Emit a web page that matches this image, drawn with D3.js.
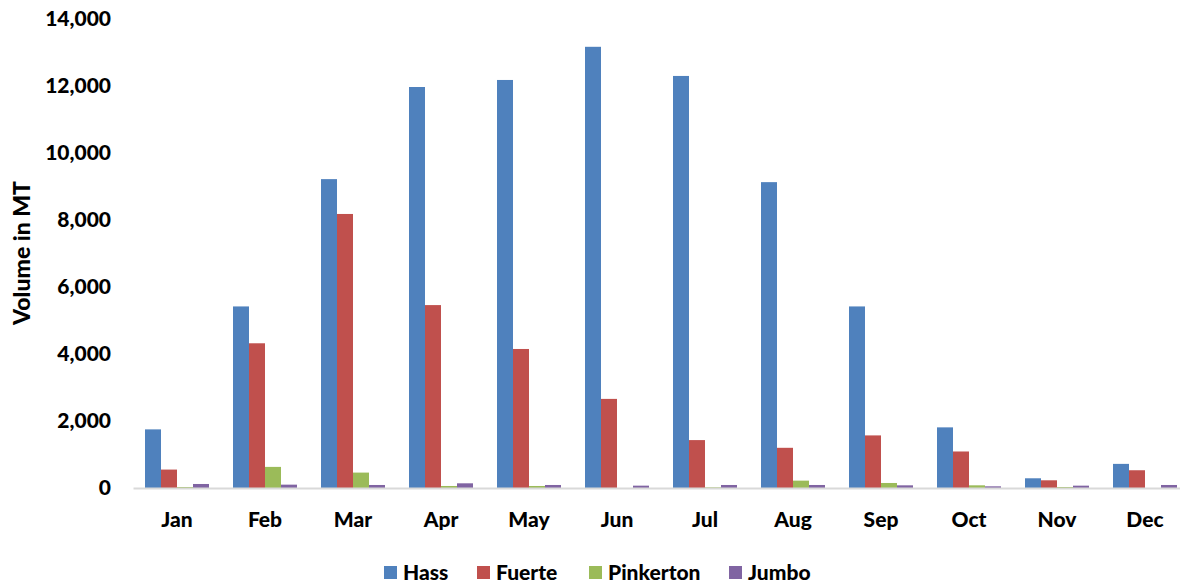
<!DOCTYPE html>
<html>
<head>
<meta charset="utf-8">
<script src="https://cdn.jsdelivr.net/npm/d3@7"></script>
<style>
  html, body { margin: 0; padding: 0; background: #ffffff; }
  svg { display: block; }
  text { font-family: Lato, "Open Sans", "Liberation Sans", sans-serif; font-weight: 900; fill: #000; }
</style>
</head>
<body>
<svg id="chart" width="1180" height="586"></svg>
<script>
// Monthly avocado volumes (metric tonnes) by variety
const months = ["Jan","Feb","Mar","Apr","May","Jun","Jul","Aug","Sep","Oct","Nov","Dec"];
const seriesNames = ["Hass","Fuerte","Pinkerton","Jumbo"];
const hass      = [1750, 5420, 9220, 11970, 12180, 13170, 12300, 9130, 5420, 1810, 290, 720];
const fuerte    = [550, 4320, 8180, 5460, 4150, 2660, 1430, 1200, 1570, 1090, 230, 530];
const pinkerton = [30, 630, 460, 60, 60, 0, 20, 220, 150, 80, 30, 0];
const jumbo     = [120, 100, 90, 140, 90, 70, 90, 90, 80, 50, 70, 90];
const yTicks    = [0, 2000, 4000, 6000, 8000, 10000, 12000, 14000];
const colors    = ["#4F81BD", "#C0504D", "#9BBB59", "#8064A2"];

const seriesValues = [hass, fuerte, pinkerton, jumbo];

const FONT = "Lato, 'Open Sans', sans-serif";
const FONT_SIZE = "21px";

const svg = d3.select("#chart");
const plot = { left: 133, right: 1189, top: 19, bottom: 488 };

const x = d3.scaleBand()
  .domain(months)
  .range([plot.left, plot.right])
  .paddingInner(24 / 88)
  .paddingOuter(12 / 88);

const xInner = d3.scaleBand()
  .domain(seriesNames)
  .range([0, x.bandwidth()]);

const y = d3.scaleLinear()
  .domain([0, 14000])
  .range([plot.bottom, plot.top]);

const color = d3.scaleOrdinal().domain(seriesNames).range(colors);

// Bars
const groups = svg.append("g")
  .selectAll("g")
  .data(months)
  .join("g")
  .attr("transform", d => `translate(${x(d)},0)`);

groups.selectAll("rect")
  .data((m, i) => seriesNames.map((s, k) => ({ series: s, value: seriesValues[k][i] })))
  .join("rect")
  .attr("x", d => xInner(d.series))
  .attr("width", xInner.bandwidth())
  .attr("y", d => y(d.value))
  .attr("height", d => plot.bottom - y(d.value))
  .attr("fill", d => color(d.series));

// Category axis
const xAxis = svg.append("g")
  .attr("transform", `translate(0,${plot.bottom})`)
  .call(d3.axisBottom(x).tickSize(0).tickPadding(24));
xAxis.select(".domain").attr("stroke", "#d9d9d9").attr("stroke-width", 2);
xAxis.selectAll("text")
  .style("font-size", FONT_SIZE)
  .style("font-family", FONT)
  .style("font-weight", 900)
  .attr("fill", "#000");

// Value axis (labels only)
const yAxis = svg.append("g")
  .attr("transform", `translate(${plot.left},0)`)
  .call(d3.axisLeft(y).tickValues(yTicks).tickFormat(d3.format(",")).tickSize(0).tickPadding(22));
yAxis.select(".domain").remove();
yAxis.selectAll("text")
  .style("font-size", FONT_SIZE)
  .style("font-family", FONT)
  .style("font-weight", 900)
  .attr("fill", "#000");

// Axis title
svg.append("text")
  .attr("transform", `translate(30,253) rotate(-90)`)
  .attr("text-anchor", "middle")
  .style("font-size", "23px")
  .text("Volume in MT");

// Legend
const legendX = [384, 477, 589, 729];
const legend = svg.append("g")
  .selectAll("g")
  .data(seriesNames)
  .join("g")
  .attr("transform", (d, i) => `translate(${legendX[i]},566)`);
legend.append("rect")
  .attr("width", 13)
  .attr("height", 13)
  .attr("fill", d => color(d));
legend.append("text")
  .attr("x", 19)
  .attr("y", 14)
  .style("font-size", FONT_SIZE)
  .text(d => d);
</script>
</body>
</html>
